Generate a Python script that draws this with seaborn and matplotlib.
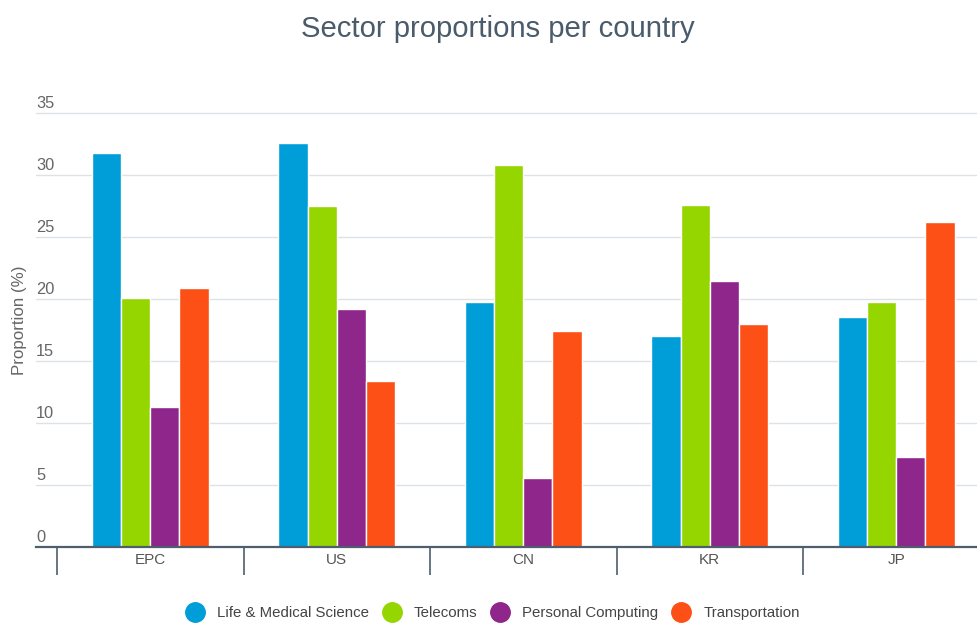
import matplotlib
matplotlib.use("Agg")
import matplotlib.pyplot as plt
import matplotlib.transforms as mtransforms
from matplotlib.lines import Line2D
import numpy as np
import pandas as pd
import seaborn as sns

# Share of patents by sector for each office
countries = ["EPC", "US", "CN", "KR", "JP"]
sectors = ["Life & Medical Science", "Telecoms", "Personal Computing", "Transportation"]
life_medical = [31.8, 32.6, 19.8, 17.0, 18.6]
telecoms = [20.1, 27.5, 30.8, 27.6, 19.8]
personal_computing = [11.3, 19.2, 5.6, 21.5, 7.3]
transportation = [20.9, 13.4, 17.4, 18.0, 26.2]
y_ticks = [0, 5, 10, 15, 20, 25, 30, 35]
colors = ["#009ED8", "#95D600", "#8E268B", "#FC5016"]

df = pd.DataFrame({
    "country": list(countries) * 4,
    "sector": np.repeat(sectors, len(countries)),
    "value": life_medical + telecoms + personal_computing + transportation,
})

sns.set_theme(style="white")
plt.rcParams["font.family"] = ["Liberation Sans", "DejaVu Sans"]

W, H = 977, 624
fig = plt.figure(figsize=(W / 100, H / 100), dpi=100)
ax_left, ax_right, ax_bottom, ax_top = 36, 977, 547, 111
ax = fig.add_axes([ax_left / W, (H - ax_bottom) / H,
                   (ax_right - ax_left) / W, (ax_bottom - ax_top) / H])

sns.barplot(data=df, x="country", y="value", hue="sector", order=countries,
            hue_order=sectors, palette=colors, width=0.625, edgecolor="white",
            linewidth=1.0, saturation=1, legend=False, ax=ax)

for side in ["top", "right", "left"]:
    ax.spines[side].set_visible(False)
ax.spines["bottom"].set_color("#4E5E6E")
ax.spines["bottom"].set_linewidth(1.6)

ax.set_axisbelow(True)
ax.yaxis.grid(True, color="#DDE2E7", linewidth=1.0)
ax.xaxis.grid(False)

ax.set_yticks(y_ticks)
ax.set_yticklabels([str(v) for v in y_ticks])
ax.tick_params(axis="y", length=0, pad=0, labelsize=11.8, labelcolor="#666666")
offset = mtransforms.ScaledTranslation(0, 1.5 / 72, fig.dpi_scale_trans)
for lab in ax.get_yticklabels():
    lab.set_horizontalalignment("left")
    lab.set_verticalalignment("bottom")
    lab.set_transform(lab.get_transform() + offset)

ax.set_xticks(range(len(countries)))
ax.set_xticklabels(countries)
ax.tick_params(axis="x", which="major", length=0, pad=4, labelsize=11,
               labelcolor="#555555")
ax.set_xticks(np.arange(-0.5, len(countries)), minor=True)
ax.tick_params(axis="x", which="minor", length=20, width=1.2, color="#4E5E6E",
               direction="out", bottom=True)

# category span: boundary -0.5 sits at x=57px, each category is 186.5px wide
cat_px = 186.5
x0 = -0.5 - (57 - ax_left) / cat_px
x1 = -0.5 + (ax_right - 57) / cat_px
ax.set_xlim(x0, x1)
ax.set_ylim(0, (ax_bottom - ax_top) / 12.39)

ax.set_xlabel("")
ax.set_ylabel("")
fig.text(20 / W, (H - 320) / H, "Proportion (%)", rotation=90, ha="center",
         va="center", fontsize=12.2, color="#666666")

fig.text(498 / W, (H - 29) / H, "Sector proportions per country", ha="center",
         va="center", fontsize=21.1, color="#4A5B6B")

handles = [Line2D([0], [0], marker="o", linestyle="", markersize=14,
                  markerfacecolor=c, markeredgecolor=c) for c in colors]
fig.legend(handles, sectors, loc="center", bbox_to_anchor=(492 / W, (H - 613) / H),
           ncol=4, frameon=False, fontsize=10.8, labelcolor="#444444",
           handletextpad=0.77, columnspacing=0.83, handlelength=1.4)

fig.savefig("out.png", dpi=100)
